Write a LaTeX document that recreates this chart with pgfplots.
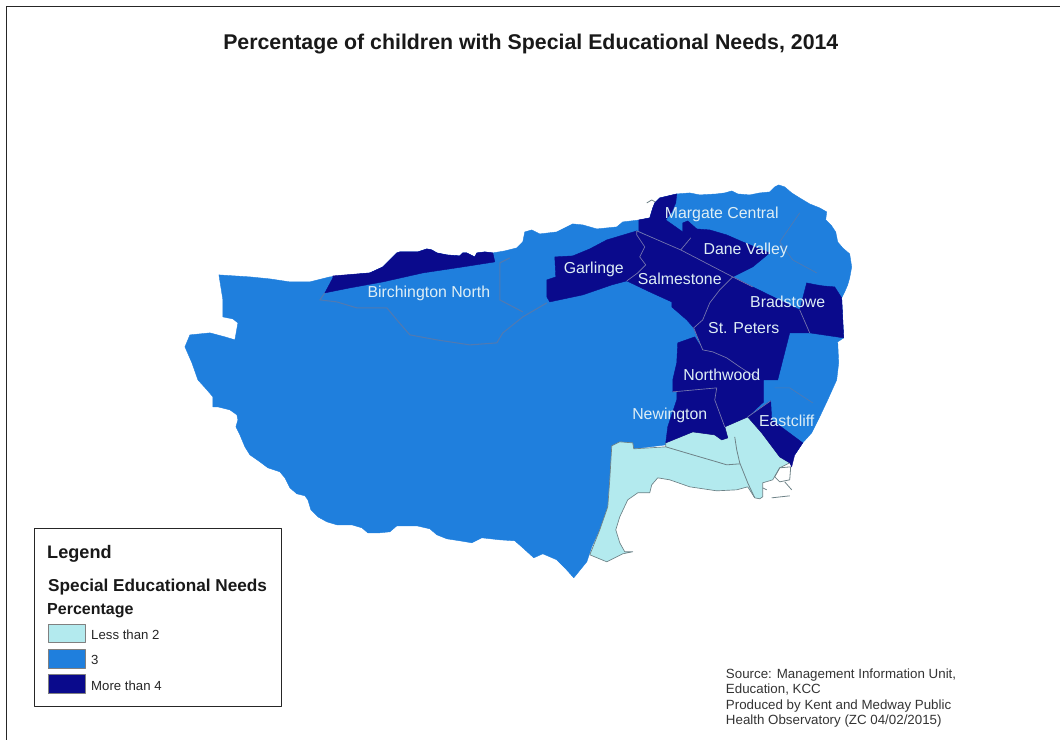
\documentclass[border=0pt]{standalone}
\usepackage{fontspec}
\setmainfont{Liberation Sans}
\usepackage{pgfplots}
\pgfplotsset{compat=1.18}
\definecolor{lowc}{RGB}{179,234,238}
\definecolor{midc}{RGB}{31,127,221}
\definecolor{highc}{RGB}{10,10,140}
\definecolor{labelc}{RGB}{222,238,245}
\definecolor{midline}{RGB}{80,122,178}
\definecolor{highline}{RGB}{120,120,175}
\definecolor{lowline}{RGB}{110,130,135}
\newcommand{\fs}[1]{\fontsize{#1}{#1}\selectfont}
\begin{document}
\begin{tikzpicture}
\begin{axis}[
  hide axis, scale only axis, width=795pt, height=555pt,
  xmin=0, xmax=1060, ymin=0, ymax=740, y dir=reverse, clip=false,
  every axis plot/.append style={line join=round}
]
% page frame
\addplot[black!85, line width=0.6pt] coordinates {(6,740)(6,6)(1060,6)};

% whole district, mid class
\addplot[fill=midc, draw=midc, line width=0.3pt] coordinates {
 (219,275)(250,277)(270,279)(290,282)(310,282)(330,277)(370,273)(383,267)(390,260)(397,253)
 (400,252)(410,252)(418,252)(427,249)(432,250)(437,253)(447,255)(460,256)(463,253)(467,253)
 (475,257)(477,253)(485,252)(493,253)(505,251)(517,248)(523,242)(525,232)(532,230)(540,234)
 (557,232)(565,228)(573,224)(583,225)(597,229)(617,227)(623,222)(640,220)(650,218)(653,208)
 (655,203)(660,198)(677,194)(690,193)(700,195)(717,194)(725,193)(732,191)(738,194)(750,195)
 (760,193)(770,192)(775,187)(779,185)(785,187)(792,193)(800,198)(810,204)(820,208)(827,212)
 (826,220)(832,226)(836,232)(838,242)(843,248)(850,254)(852,267)(850,278)(848,285)(845,292)
 (842,298)(844,338)(838,342)(839,363)(837,380)(828,400)(820,417)(812,433)(803,443)(795,455)
 (748,417)(725,427)(666,445)(634,449)(612,446)(610,480)(608,507)(600,530)(592,547)(587,562)
 (574,578)(565,568)(557,560)(543,554)(534,558)(523,548)(515,541)(500,540)(482,538)(472,543)
 (460,541)(447,539)(437,535)(430,529)(417,526)(397,526)(390,532)(380,533)(368,533)(362,528)
 (352,525)(337,525)(327,522)(318,517)(311,510)(308,500)(305,496)(297,494)(290,488)(285,478)
 (280,472)(268,468)(260,462)(250,455)(245,447)(240,435)(236,427)(238,420)(237,415)(230,410)
 (218,407)(213,407)(213,397)(207,390)(198,380)(192,363)(185,347)(190,335)(210,333)(225,337)
 (235,340)(238,323)(233,319)(223,317)(223,300)(219,275)} -- cycle;

% internal boundaries of the mid class
\addplot[midline, line width=0.8pt] coordinates {
 (325,293)(320,300)(337,302)(357,308)(387,308)(397,320)(410,335)(437,340)(470,345)(497,343)
 (503,333)(523,317)(547,303)};
\addplot[midline, line width=0.8pt] coordinates {(510,258)(500,263)(500,300)(523,312)};
\addplot[midline, line width=0.5pt] coordinates {(800,213)(780,242)(793,260)(817,273)};
\addplot[midline, line width=0.5pt] coordinates {(775,388)(790,388)(813,403)};

% low class
\addplot[fill=lowc, draw=lowline, line width=0.5pt] coordinates {
 (612,446)(620,442)(633,443)(634,449)(666,447)(666,443)(693,432)(715,435)(722,440)(728,438)
 (725,427)(748,417)(762,433)(780,457)(790,463)(780,468)(773,480)(763,483)(763,497)(760,499)
 (755,498)(748,487)(737,490)(717,491)(690,487)(670,480)(658,478)(652,485)(650,493)(638,493)
 (628,500)(620,517)(616,530)(620,543)(625,552)(633,552)(623,554)(607,562)(590,555)(600,530)
 (608,507)(610,480)(612,446)} -- cycle;
\addplot[lowline, line width=0.6pt] coordinates {(666,447)(693,455)(717,462)(727,465)(740,464)};
\addplot[lowline, line width=0.6pt] coordinates {(735,437)(737,450)(740,463)(748,483)(755,498)};

% coast detail south of the low class
\addplot[lowline, line width=0.6pt] coordinates {(791,467)(780,468)(775,477)(780,482)(790,480)(791,467)};
\addplot[lowline, line width=0.6pt] coordinates {(785,482)(792,490)};
\addplot[lowline, line width=0.6pt] coordinates {(763,488)(767,490)};
\addplot[lowline, line width=0.6pt] coordinates {(772,498)(790,496)};

% harbour arm at Margate
\addplot[lowline, line width=0.6pt] coordinates {(647,203)(652,200)(657,203)(655,210)};

% high class
\addplot[fill=highc, draw=highc, line width=0.3pt] coordinates {% northern strip
 (325,293)(333,278)(333,276)(370,273)(383,267)(390,260)(397,253)(400,252)(410,252)(418,252)
 (427,249)(432,250)(437,253)(447,255)(460,256)(463,253)(467,253)(475,257)(477,253)(485,252)
 (493,253)(495,262)(463,267)(423,273)(383,282)(350,288)} -- cycle;
\addplot[fill=highc, draw=highc, line width=0.3pt] coordinates {% Garlinge
 (555,257)(573,256)(590,249)(607,240)(637,231)(637,235)(645,247)(640,257)(646,265)(638,273)
 (627,281)(612,285)(583,295)(550,302)(547,297)(547,280)(556,277)} -- cycle;
\addplot[fill=highc, draw=highc, line width=0.3pt] coordinates {% Margate tip
 (639,231)(639,220)(650,218)(653,208)(655,203)(660,198)(677,194)(676,203)(672,212)(666,220)
 (683,232)(691,238)(681,250)} -- cycle;
\addplot[fill=highc, draw=highc, line width=0.3pt] coordinates {% Dane Valley
 (681,250)(691,238)(683,232)(683,223)(688,221)(697,229)(710,230)(727,235)(743,242)(770,253)
 (753,267)(733,277)} -- cycle;
\addplot[fill=highc, draw=highc, line width=0.3pt] coordinates {% Salmestone
 (637,231)(681,250)(733,277)(720,290)(710,303)(703,320)(694,328)(687,320)(672,307)(672,302)
 (650,292)(627,281)(638,273)(646,265)(640,257)(645,247)(637,235)} -- cycle;
\addplot[fill=highc, draw=highc, line width=0.3pt] coordinates {% Bradstowe
 (800,310)(807,283)(817,285)(823,286)(835,287)(842,298)(844,338)(810,333)} -- cycle;
\addplot[fill=highc, draw=highc, line width=0.3pt] coordinates {% St. Peters
 (733,277)(753,287)(800,310)(810,333)(790,333)(778,380)(760,380)(740,367)(727,358)(713,352)
 (703,350)(698,338)(694,328)(703,320)(710,303)(720,290)} -- cycle;
\addplot[fill=highc, draw=highc, line width=0.3pt] coordinates {% Northwood
 (678,343)(695,337)(703,350)(713,352)(727,358)(740,367)(760,380)(764,380)(764,402)(748,417)
 (725,427)(715,400)(717,388)(673,392)(673,380)(677,363)} -- cycle;
\addplot[fill=highc, draw=highc, line width=0.3pt] coordinates {% Newington
 (677,392)(717,388)(715,400)(725,427)(728,438)(722,440)(715,435)(693,432)(666,443)(668,427)
 (677,400)} -- cycle;
\addplot[fill=highc, draw=highc, line width=0.3pt] coordinates {% Eastcliff
 (771,401)(772,420)(803,443)(795,455)(792,467)(790,463)(780,457)(762,433)(748,417)} -- cycle;

% internal boundaries of the high class
\addplot[highline, line width=0.5pt] coordinates {(637,231)(681,250)(733,277)(753,287)};
\addplot[highline, line width=0.5pt] coordinates {(637,231)(637,235)(645,247)(640,257)(646,265)(638,273)(627,281)};
\addplot[highline, line width=0.5pt] coordinates {(691,238)(681,250)};
\addplot[highline, line width=0.5pt] coordinates {(733,277)(720,290)(710,303)(703,320)(694,328)(698,338)(703,350)(713,352)(727,358)(740,367)(760,380)};
\addplot[highline, line width=0.5pt] coordinates {(800,310)(810,333)};
\addplot[highline, line width=0.5pt] coordinates {(673,392)(717,388)(715,400)(725,427)};
\addplot[highline, line width=0.5pt] coordinates {(771,401)(748,417)};

% legend frame and swatches
\addplot[fill=white, draw=black!85, line width=0.7pt] coordinates {(34,529)(282,529)(282,707)(34,707)} -- cycle;
\addplot[fill=lowc, draw=gray, line width=0.5pt] coordinates {(48,625)(85,625)(85,643)(48,643)} -- cycle;
\addplot[fill=midc, draw=gray, line width=0.5pt] coordinates {(48,650)(85,650)(85,669)(48,669)} -- cycle;
\addplot[fill=highc, draw=gray, line width=0.5pt] coordinates {(48,675)(85,675)(85,694)(48,694)} -- cycle;

% title
\node[font=\fs{16}\bfseries, text=black!90] at (axis cs:531,44) {Percentage of children with Special Educational Needs, 2014};

% ward names
\begin{scope}[every node/.style={font=\fs{11.9}, text=labelc}]
\node at (axis cs:722,214) {Margate Central};
\node at (axis cs:746,250) {Dane Valley};
\node at (axis cs:594,269) {Garlinge};
\node at (axis cs:680,279) {Salmestone};
\node at (axis cs:788,302) {Bradstowe};
\node at (axis cs:744,328) {St. Peters};
\node at (axis cs:722,375) {Northwood};
\node at (axis cs:670,416) {Newington};
\node at (axis cs:787,421) {Eastcliff};
\node at (axis cs:429,294) {Birchington North};
\end{scope}

% legend text
\begin{scope}[every node/.style={anchor=west, inner sep=0pt}]
\node[font=\fs{13.6}\bfseries, text=black!90] at (axis cs:47,554) {Legend};
\node[font=\fs{12.9}\bfseries, text=black!90] at (axis cs:48,587) {Special Educational Needs};
\node[font=\fs{12}\bfseries, text=black!90] at (axis cs:47,611) {Percentage};
\node[font=\fs{9.9}, text=black!85] at (axis cs:91,635) {Less than 2};
\node[font=\fs{9.9}, text=black!85] at (axis cs:91,660) {3};
\node[font=\fs{9.9}, text=black!85] at (axis cs:91,686) {More than 4};
\node[font=\fs{10}, text=black!80] at (axis cs:726,675) {Source: Management Information Unit,};
\node[font=\fs{10}, text=black!80] at (axis cs:726,690) {Education, KCC};
\node[font=\fs{10}, text=black!80] at (axis cs:726,706) {Produced by Kent and Medway Public};
\node[font=\fs{10}, text=black!80] at (axis cs:726,721) {Health Observatory (ZC 04/02/2015)};
\end{scope}

\path[use as bounding box] (axis cs:0,0) rectangle (axis cs:1060,740);
\end{axis}
\end{tikzpicture}
\end{document}
